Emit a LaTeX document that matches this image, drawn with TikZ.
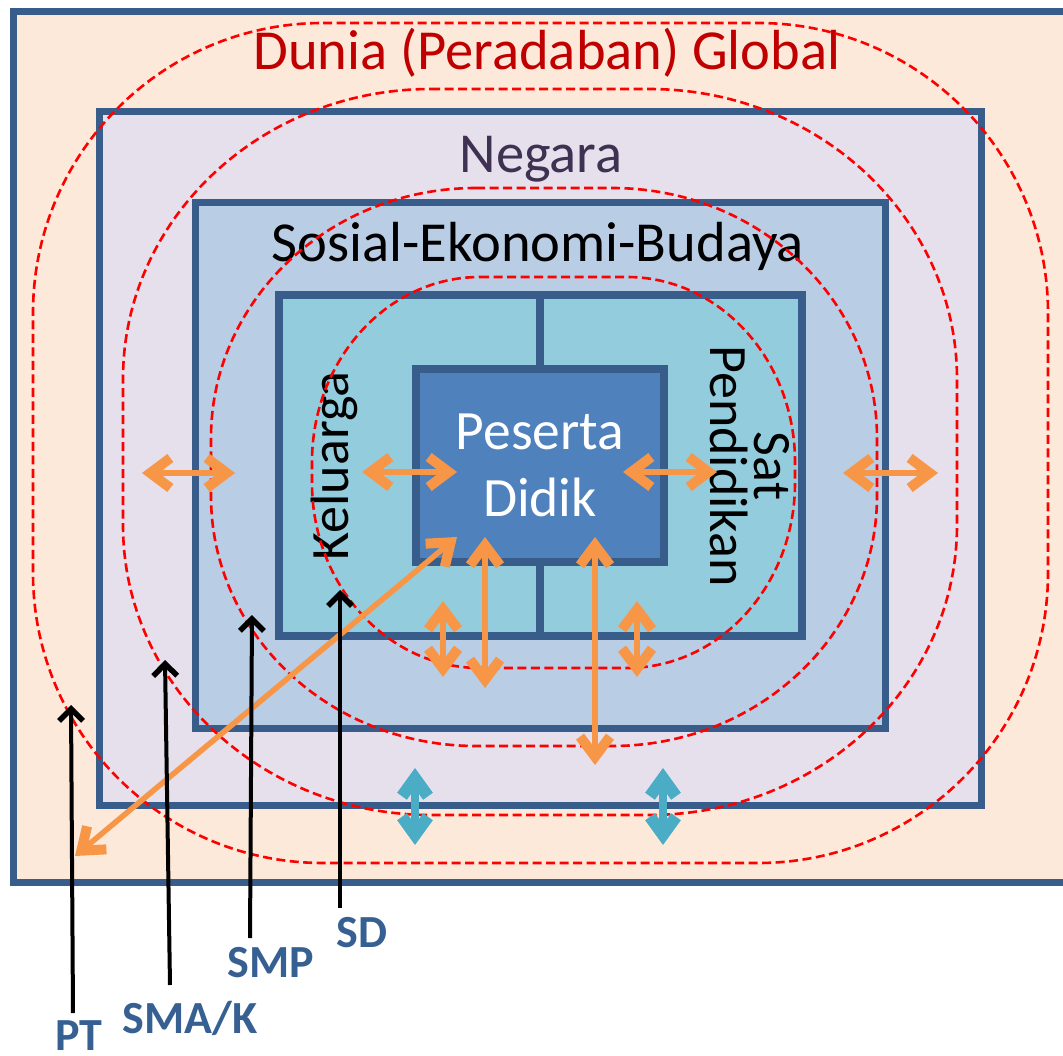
\documentclass[tikz,border=0pt]{standalone}
\usepackage{fontspec}
\setmainfont{Carlito}
\usetikzlibrary{arrows.meta}
\definecolor{bord}{HTML}{385D8A}
\definecolor{fOuter}{HTML}{FDE9D9}
\definecolor{fNeg}{HTML}{E5E0EC}
\definecolor{fSos}{HTML}{B9CDE5}
\definecolor{fIn}{HTML}{93CDDD}
\definecolor{fPes}{HTML}{4F81BD}
\definecolor{orn}{HTML}{F79646}
\definecolor{tealc}{HTML}{4BACC6}
\definecolor{lbl}{HTML}{376092}
\definecolor{negc}{HTML}{3F3151}
\definecolor{dunc}{HTML}{C00000}
\definecolor{dashred}{HTML}{FF0000}
\tikzset{
  box/.style={draw=bord, line width=7pt, line join=miter},
  ring/.style={draw=dashred, line width=2.6pt, dash pattern=on 9pt off 4.5pt},
  otip/.tip={Straight Barb[length=20pt,width=30pt,line width'=10pt]},
  ttip/.tip={Straight Barb[length=18pt,width=26pt,line width'=12pt]},
  ktip/.tip={Straight Barb[length=12pt,width=24pt,line width'=5.5pt]},
  oarr/.style={draw=orn, line width=5.5pt, {otip}-{otip}},
  tarr/.style={draw=tealc, line width=8pt, {ttip}-{ttip}},
  karr/.style={draw=black, line width=4pt, -{ktip}},
  big/.style={font=\fontsize{56.5pt}{68pt}\selectfont, inner sep=0pt},
  lab/.style={font=\bfseries\fontsize{46pt}{55pt}\selectfont, text=lbl, inner sep=0pt, anchor=base},
}
\newcommand{\ringshape}[6]{%
  \draw[ring] ({#1+#5},#3) -- ({#2-#5},#3)
    arc[start angle=90,end angle=0,x radius=#5pt,y radius=#6pt] -- (#2,{#4-#6})
    arc[start angle=0,end angle=-90,x radius=#5pt,y radius=#6pt] -- ({#1+#5},#4)
    arc[start angle=-90,end angle=-180,x radius=#5pt,y radius=#6pt] -- (#1,{#3+#6})
    arc[start angle=180,end angle=90,x radius=#5pt,y radius=#6pt] -- cycle;}
\begin{document}
\begin{tikzpicture}[x=1pt,y=-1pt]
\useasboundingbox (0,0) rectangle (1063,1056);
\clip (0,0) rectangle (1063,1056);
\fill[white] (0,0) rectangle (1063,1056);
% nested boxes
\draw[box, fill=fOuter] (13,12) rectangle (1090,882);
\draw[box, fill=fNeg] (99,112) rectangle (981,805);
\draw[box, fill=fSos] (195,203) rectangle (885,728);
\draw[box, fill=fIn, line width=8pt] (279,295) rectangle (802,636);
\draw[box, line width=8pt] (540,295) -- (540,636);
\node[draw=bord, line width=8pt, fill=fPes, minimum width=248pt, minimum height=193pt,
      text=white, align=center, font=\fontsize{55.5pt}{67pt}\selectfont, inner sep=0pt]
      (pd) at (540,465.5) {Peserta\\Didik};
% texts
\node[big, text=dunc, anchor=base] (dunia) at (547,70) {Dunia (Peradaban) Global};
\node[big, text=negc, anchor=base] (negara) at (541,173) {Negara};
\node[big, anchor=base] (sosial) at (538,262) {Sosial-Ekonomi-Budaya};
\node[font=\fontsize{54pt}{66pt}\selectfont, inner sep=0pt, rotate=90] (kel) at (334,466) {Keluarga};
\node[rotate=-90, align=center, inner sep=0pt, font=\fontsize{54pt}{44pt}\selectfont] (sat) at (750,466) {Sat\\Pendidikan};
% dashed rings
\ringshape{312}{795}{277}{668}{168}{185}
\ringshape{211}{877}{188}{746}{265}{250}
\ringshape{123}{957}{89}{815}{308}{290}
\ringshape{33}{1048}{23}{863}{290}{290}
% orange arrows
\coordinate (h1a) at (142,473); \coordinate (h1b) at (235,473);
\coordinate (h2a) at (362,472); \coordinate (h2b) at (457,472);
\coordinate (h3a) at (623,472); \coordinate (h3b) at (717,472);
\coordinate (h4a) at (843,473); \coordinate (h4b) at (938,473);
\coordinate (dga) at (457,537); \coordinate (dgb) at (75,856);
\coordinate (v1a) at (485,537); \coordinate (v1b) at (485,688);
\coordinate (v2a) at (443,601); \coordinate (v2b) at (443,677);
\coordinate (v3a) at (595,537); \coordinate (v3b) at (595,765);
\coordinate (v4a) at (637,601); \coordinate (v4b) at (637,677);
\draw[oarr] (h1a) -- (h1b);
\draw[oarr] (h2a) -- (h2b);
\draw[oarr] (h3a) -- (h3b);
\draw[oarr] (h4a) -- (h4b);
\draw[oarr] (dga) -- (dgb);
\draw[oarr] (v1a) -- (v1b);
\draw[oarr] (v2a) -- (v2b);
\draw[oarr] (v3a) -- (v3b);
\draw[oarr] (v4a) -- (v4b);
% teal arrows
\coordinate (t1a) at (415,768); \coordinate (t1b) at (415,845);
\coordinate (t2a) at (663,768); \coordinate (t2b) at (663,845);
\draw[tarr] (t1a) -- (t1b);
\draw[tarr] (t2a) -- (t2b);
% level labels and pointers
\node[lab] (sd) at (362,947) {SD};
\node[lab] (smp) at (271,977) {SMP};
\node[lab] (sma) at (190,1033) {SMA/K};
\node[lab] (pt) at (79,1050) {PT};
\coordinate (sdt) at (340,908); \coordinate (sdh) at (340,590);
\coordinate (smpt) at (250,938); \coordinate (smph) at (252,615);
\coordinate (smat) at (170,985); \coordinate (smah) at (165,660);
\coordinate (ptt) at (73,1013); \coordinate (pth) at (71,705);
\draw[karr] (sdt) -- (sdh);
\draw[karr] (smpt) -- (smph);
\draw[karr] (smat) -- (smah);
\draw[karr] (ptt) -- (pth);
\end{tikzpicture}
\end{document}
